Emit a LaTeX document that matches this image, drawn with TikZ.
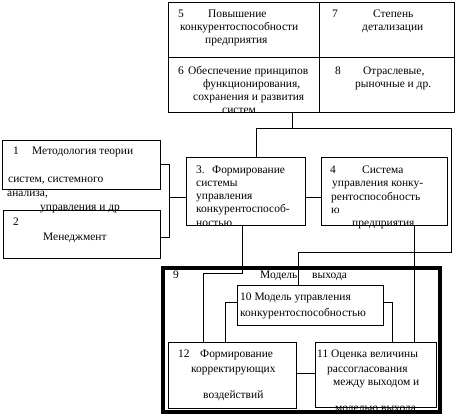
\documentclass[tikz,border=0pt]{standalone}
\usepackage{fontspec}
\setmainfont{Liberation Serif}
\begin{document}
\begin{tikzpicture}[x=1bp,y=-1bp,
  box/.style={draw, line width=0.8pt, anchor=north west, outer sep=0pt, inner sep=0pt},
  thickbox/.style={draw, line width=3.5pt, anchor=north west, outer sep=0pt, inner sep=0pt},
  conn/.style={draw, line width=0.8pt},
  txt/.style={anchor=base west, inner sep=0pt, font=\fontsize{11.5}{13}\selectfont}]
\useasboundingbox (0,0) rectangle (460,416);
% top table
\node[box, minimum width=151bp, minimum height=55bp] (b5) at (168,2) {};
\node[box, minimum width=135bp, minimum height=55bp] (b7) at (319,2) {};
\node[box, minimum width=151bp, minimum height=55bp] (b6) at (168,57) {};
\node[box, minimum width=135bp, minimum height=55bp] (b8) at (319,57) {};
% left boxes
\node[box, minimum width=158bp, minimum height=49bp] (b1) at (2,140) {};
\node[box, minimum width=157bp, minimum height=48bp] (b2) at (3,210) {};
% middle boxes
\node[box, minimum width=119bp, minimum height=68bp] (b3) at (186,157) {};
\node[box, minimum width=126bp, minimum height=68bp] (b4) at (321,157) {};
% model box
\node[thickbox, minimum width=277bp, minimum height=144bp] (b9) at (163,268) {};
\node[box, minimum width=146bp, minimum height=40bp] (b10) at (237,285) {};
\node[box, minimum width=128bp, minimum height=66bp] (b12) at (168,342) {};
\node[box, minimum width=121bp, minimum height=65bp] (b11) at (315,342) {};
% coordinates for connectors
\coordinate (j1) at (292,128);
\coordinate (jL) at (256,128);
\coordinate (jR) at (451,128);
\coordinate (jR2) at (451,252);
\coordinate (jR3) at (298,252);
\coordinate (k1) at (169,164);
\coordinate (k2) at (169,237);
\coordinate (k3) at (169,197);
\coordinate (m1) at (242,273);
\coordinate (m2) at (203,273);
\coordinate (n1) at (414,300);
\coordinate (p1) at (225,302);
\coordinate (p2) at (392,302);
\coordinate (q) at (300,373);
% connectors
\draw[conn] (b6.south -| j1) -- (j1);
\draw[conn] (b3.north -| jL) -- (jL) -- (jR) -- (jR2) -- (jR3) -- (b10.north -| jR3);
\draw[conn] (b1.east |- k1) -- (k1) -- (k2) -- (b2.east |- k2);
\draw[conn] (k3) -- (b3.west |- k3);
\draw[conn] (b3.east |- k3) -- (b4.west |- k3);
\draw[conn] (b3.south -| m1) -- (m1) -- (m2) -- (b12.north -| m2);
\draw[conn] (b4.south -| n1) -- (b11.north -| n1);
\draw[conn] (b10.west |- p1) -- (p1) -- (b12.north -| p1);
\draw[conn] (b10.east |- p2) -- (p2) -- (b11.north -| p2);
\draw[conn] (b12.east |- q) -- (b11.west |- q);
% texts box 5
\node[txt] (t5a) at (178,17) {5};
\node[txt] (t5b) at (208,17) {Повышение};
\node[txt] (t5c) at (180,30) {конкурентоспособности};
\node[txt] (t5d) at (205,43) {предприятия};
% box 7
\node[txt] (t7a) at (332,17) {7};
\node[txt] (t7b) at (373,17) {Степень};
\node[txt] (t7c) at (362,30) {детализации};
% box 6
\node[txt] (t6a) at (178,74) {6};
\node[txt] (t6b) at (188,74) {Обеспечение принципов};
\node[txt] (t6c) at (203,87) {функционирования,};
\node[txt] (t6d) at (193,100) {сохранения и развития};
\node[txt] (t6e) at (222,113) {систем};
% box 8
\node[txt] (t8a) at (335,74) {8};
\node[txt] (t8b) at (363,74) {Отраслевые,};
\node[txt] (t8c) at (355,87) {рыночные и др.};
% box 1
\node[txt] (t1a) at (13,154) {1};
\node[txt] (t1b) at (32,154) {Методология теории};
\node[txt] (t1c) at (8,182) {систем, системного};
\node[txt] (t1d) at (7,196) {анализа,};
\node[txt] (t1e) at (40,210) {управления и др};
% box 2
\node[txt] (t2a) at (13,225) {2};
\node[txt] (t2b) at (43,240) {Менеджмент};
% box 3
\node[txt] (t3a) at (196,173) {3.};
\node[txt] (t3b) at (212,173) {Формирование};
\node[txt] (t3c) at (196,186) {системы};
\node[txt] (t3d) at (196,199) {управления};
\node[txt] (t3e) at (196,212) {конкурентоспособ-};
\node[txt] (t3f) at (196,226) {ностью};
% box 4
\node[txt] (t4a) at (330,173) {4};
\node[txt] (t4b) at (362,173) {Система};
\node[txt] (t4c) at (332,186) {управления конку-};
\node[txt] (t4d) at (331,200) {рентоспособность};
\node[txt] (t4e) at (331,213) {ю};
\node[txt] (t4f) at (352,226) {предприятия};
% box 9
\node[txt] (t9a) at (173,278) {9};
\node[txt] (t9b) at (260,278) {Модель};
\node[txt] (t9c) at (312,278) {выхода};
% box 10
\node[txt] (t10a) at (240,300) {10 Модель управления};
\node[txt] (t10b) at (240,316) {конкурентоспособностью};
% box 12
\node[txt] (t12a) at (178,357) {12};
\node[txt] (t12b) at (200,357) {Формирование};
\node[txt] (t12c) at (191,372) {корректирующих};
\node[txt] (t12d) at (203,398) {воздействий};
% box 11
\node[txt] (t11a) at (317,357) {11 Оценка величины};
\node[txt] (t11b) at (327,372) {рассогласования};
\node[txt] (t11c) at (333,385) {между выходом и};
\node[txt] (t11d) at (335,411) {моделью выхода};
\end{tikzpicture}
\end{document}
